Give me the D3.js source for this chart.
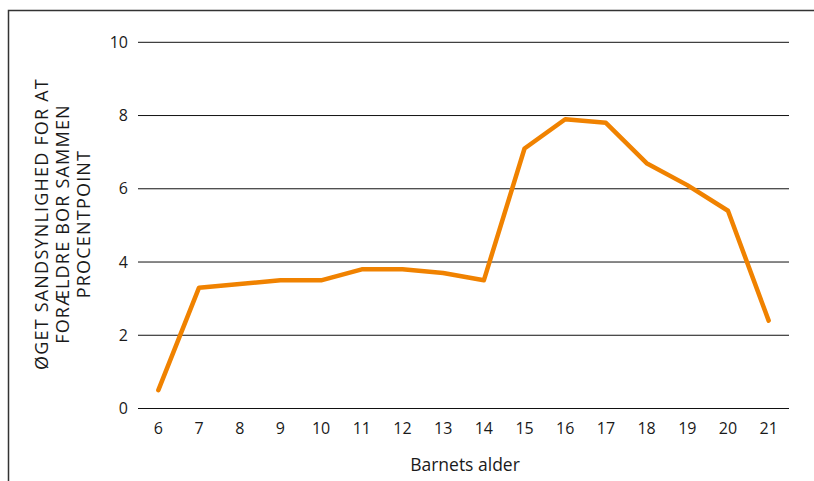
<!DOCTYPE html>
<html><head><meta charset="utf-8">
<script src="https://cdn.jsdelivr.net/npm/d3@7"></script>
<style>
body{margin:0;background:#fff;}
text{font-family:"Open Sans",sans-serif;fill:#1a1a1a;}
</style></head>
<body>
<svg id="c" width="814" height="481"></svg>
<script>
const ages = [6,7,8,9,10,11,12,13,14,15,16,17,18,19,20,21];
const values = [0.5,3.3,3.4,3.5,3.5,3.8,3.8,3.7,3.5,7.1,7.9,7.8,6.7,6.1,5.4,2.4];
const yTicks = [0,2,4,6,8,10];
const yTitle = ["ØGET SANDSYNLIGHED FOR AT","FORÆLDRE BOR SAMMEN","PROCENTPOINT"];
const xTitle = "Barnets alder";

const svg = d3.select("#c");
// frame
svg.append("path").attr("d","M8.5,481V10.5H814").attr("fill","none").attr("stroke","#333").attr("stroke-width",1.5);

const x = d3.scaleBand().domain(ages).range([138,789]);
const y = d3.scaleLinear().domain([0,10]).range([408.5,42.3]);

// gridlines
svg.append("g").selectAll("line").data(yTicks).join("line")
  .attr("x1",138).attr("x2",789)
  .attr("y1",d=>y(d)).attr("y2",d=>y(d))
  .attr("stroke","#111").attr("stroke-width",1);

// y labels
svg.append("g").selectAll("text").data(yTicks).join("text")
  .attr("x",128).attr("y",d=>y(d)).attr("dy","0.35em")
  .attr("text-anchor","end").attr("font-size",16).text(d=>d);

// x labels
svg.append("g").selectAll("text").data(ages).join("text")
  .attr("x",d=>x(d)+x.bandwidth()/2).attr("y",428).attr("dy","0.35em")
  .attr("text-anchor","middle").attr("font-size",16).text(d=>d);

// line
const line = d3.line().x((d,i)=>x(ages[i])+x.bandwidth()/2).y(d=>y(d));
svg.append("path").datum(values).attr("d",line)
  .attr("fill","none").attr("stroke","#F08200").attr("stroke-width",4.5)
  .attr("stroke-linejoin","round").attr("stroke-linecap","round");

// y title
const yt = svg.append("text").attr("transform","translate(48,224) rotate(-90)")
  .attr("text-anchor","middle").attr("font-size",18).attr("letter-spacing",1.2);
yTitle.forEach((t,i)=>yt.append("tspan").attr("x",0).attr("y",i*21).text(t));

// x title
svg.append("text").attr("x",465).attr("y",471).attr("text-anchor","middle")
  .attr("font-size",17.5).text(xTitle);
</script>
</body></html>
